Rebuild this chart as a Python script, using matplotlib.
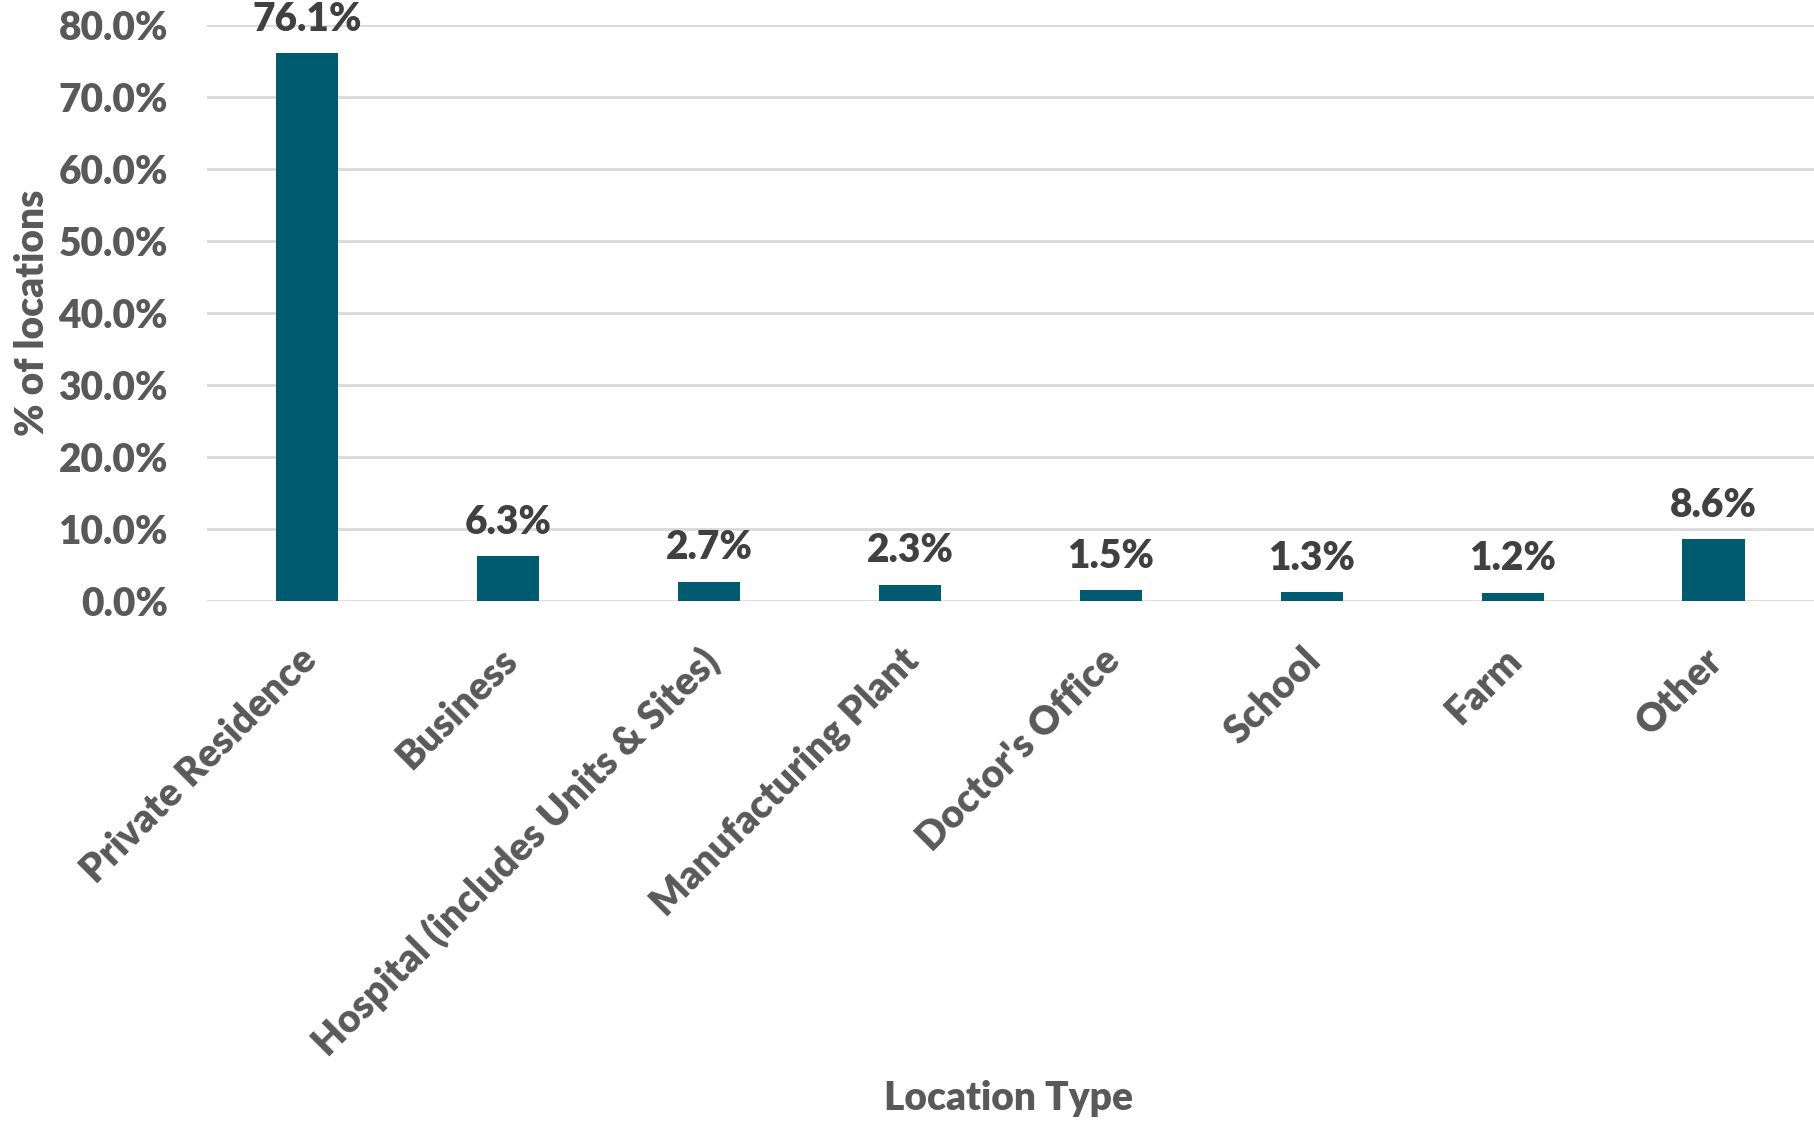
import matplotlib
matplotlib.use("Agg")
import matplotlib.pyplot as plt
import matplotlib.transforms as mtransforms
from matplotlib.ticker import FuncFormatter

# ---- data -------------------------------------------------------------
categories = ["Private Residence", "Business", "Hospital (includes Units & Sites)",
              "Manufacturing Plant", "Doctor's Office", "School", "Farm", "Other"]
values = [0.761, 0.063, 0.027, 0.023, 0.015, 0.013, 0.012, 0.086]
y_ticks = [0.0, 0.1, 0.2, 0.3, 0.4, 0.5, 0.6, 0.7, 0.8]

plt.rcParams["font.family"] = ["Lato", "DejaVu Sans"]
W = "heavy"

bar_color = "#005A70"
tick_color = "#595959"
label_color = "#404040"
grid_color = "#D9D9D9"
FS = 28

fig = plt.figure(figsize=(18.14, 11.28), dpi=100)
ax = fig.add_axes([0.114, 0.467, 0.886, 0.511])

x = range(len(categories))
ax.bar(x, values, width=0.31, color=bar_color, zorder=3)

for xi, v in zip(x, values):
    ax.annotate(f"{v*100:.1f}%", (xi, v), xytext=(0, 11), textcoords="offset points",
                ha="center", va="bottom", fontsize=FS, fontweight=W,
                color=label_color)

ax.set_xlim(-0.5, len(categories) - 0.5)
ax.set_ylim(0, 0.8)
ax.set_yticks(y_ticks)
ax.yaxis.set_major_formatter(FuncFormatter(lambda v, _: f"{v*100:.1f}%"))
ax.grid(axis="y", color=grid_color, linewidth=2, zorder=0)
ax.set_axisbelow(True)
for s in ax.spines.values():
    s.set_visible(False)

ax.tick_params(axis="both", length=0, labelsize=FS, labelcolor=tick_color)
ax.tick_params(axis="y", pad=28)
ax.set_xticks(list(x))
ax.set_xticklabels(categories, rotation=45, ha="right", rotation_mode="anchor")
ax.tick_params(axis="x", pad=26)
shift = mtransforms.ScaledTranslation(-10 / 100, -4 / 100, fig.dpi_scale_trans)
for lbl in ax.get_xticklabels():
    lbl.set_transform(lbl.get_transform() + shift)
for lbl in ax.get_yticklabels() + ax.get_xticklabels():
    lbl.set_fontweight(W)

ax.set_ylabel("% of locations", fontsize=FS, fontweight=W, color=tick_color)
ax.yaxis.set_label_coords(-0.097, 0.5)
fig.text(0.556, 0.026, "Location Type", ha="center", va="center", fontsize=FS,
         fontweight=W, color=tick_color)

fig.savefig("out.png", dpi=100, facecolor="white")
